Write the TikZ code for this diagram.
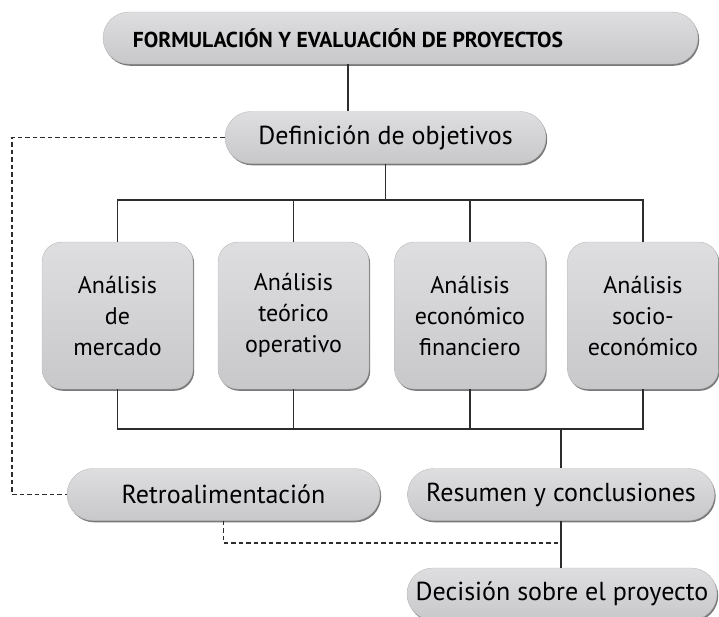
\documentclass[tikz,border=0pt]{standalone}
\usepackage{fontspec}
\setmainfont{PT Sans}
\usetikzlibrary{shapes.misc,shadows}
\definecolor{boxtop}{RGB}{222,222,224}
\definecolor{boxbot}{RGB}{200,200,203}
\definecolor{linegray}{RGB}{45,45,45}
\begin{document}
\begin{tikzpicture}[x=1pt, y=-1pt,
    box/.style={top color=boxtop, bottom color=boxbot, draw=gray!55, line width=0.4pt,
      drop shadow={shadow xshift=1.2pt, shadow yshift=-1.8pt, opacity=0.75, fill=black!70},
      inner sep=0pt},
    pill/.style={box, rounded rectangle, minimum height=52pt, font=\fontsize{26}{31}\selectfont},
    card/.style={box, rectangle, rounded corners=20pt, minimum width=151pt,
      minimum height=147pt, align=center, font=\fontsize{24}{31}\selectfont},
    link/.style={draw=linegray, line width=1.5pt},
    back/.style={draw=linegray, line width=1.5pt, dash pattern=on 4.5pt off 3pt}]
  \useasboundingbox (0,0) rectangle (719,616);
  \node[pill, minimum width=595pt] (top) at (400.5,38) {};
  \node[font=\fontsize{21.6}{25}\selectfont\bfseries] (title) at (348,38)
       {FORMULACIÓN Y EVALUACIÓN DE PROYECTOS};
  \node[pill, minimum width=321pt] (obj) at (385.5,137.5) {Definición de objetivos};
  \node[card] (a1) at (117.5,315.5) {Análisis\\de\\mercado};
  \node[card] (a2) at (293.5,315.5) {Análisis\\teórico\\operativo};
  \node[card] (a3) at (470,315.5)   {Análisis\\económico\\financiero};
  \node[card] (a4) at (643,315.5)   {Análisis\\socio-\\económico};
  \node[pill, minimum width=313pt] (retro) at (223.5,494.5) {Retroalimentación};
  \node[pill, minimum width=307pt] (resu)  at (561,494.5)   {Resumen y conclusiones};
  \node[pill, minimum width=310pt] (deci)  at (562,594)     {Decisión sobre el proyecto};
  \coordinate (bar) at (0,200);
  \coordinate (bus) at (0,429);
  \coordinate (fb)  at (12,0);
  \coordinate (low) at (0,543);
  \draw[link] (top.south -| title) -- (obj.north -| title);
  \draw[link] (obj.south) -- (obj.south |- bar);
  \draw[link, line cap=rect] (a1.north |- bar) -- (a4.north |- bar);
  \draw[link, line cap=rect] (a1.south |- bus) -- (a4.south |- bus);
  \foreach \i in {1,...,4} {
    \draw[link] (a\i.north) -- (a\i.north |- bar);
    \draw[link] (a\i.south) -- (a\i.south |- bus);
  }
  \draw[link] (resu.north |- bus) -- (resu.north);
  \draw[link] (resu.south) -- (resu.south |- deci.north);
  \draw[back] (obj.west) -- (obj.west -| fb) |- (retro.west);
  \draw[back] (retro.south) |- (resu.south |- low);
\end{tikzpicture}
\end{document}
